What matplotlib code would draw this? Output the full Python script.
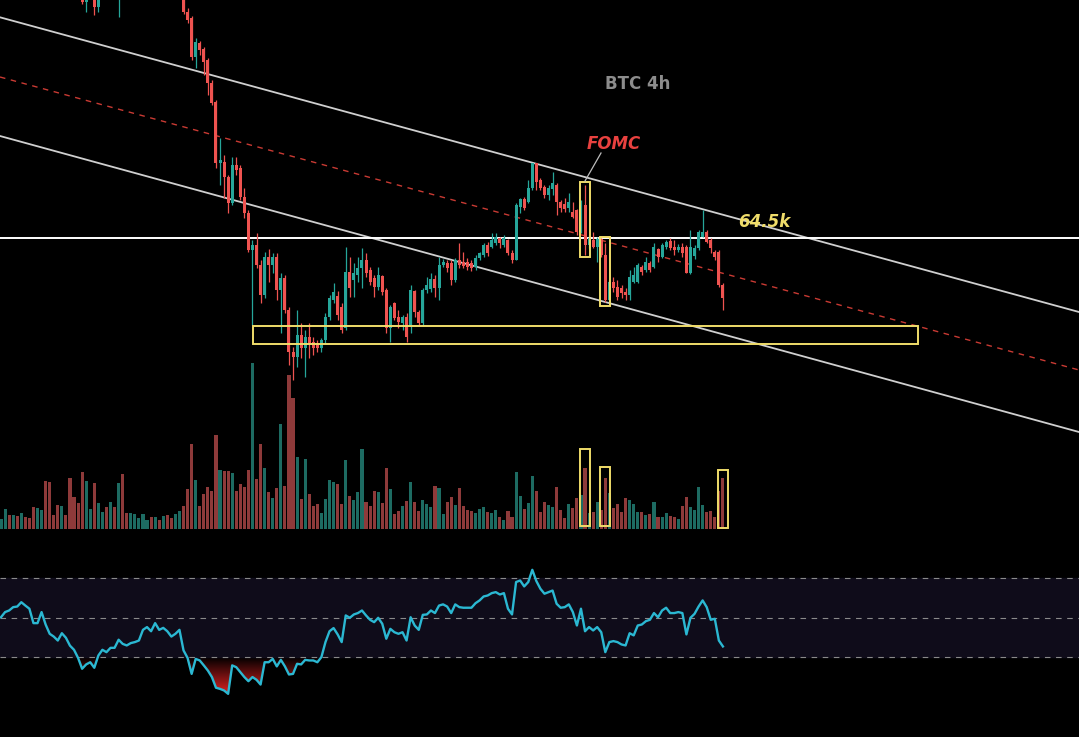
import matplotlib
matplotlib.use("Agg")
import matplotlib.pyplot as plt
import numpy as np
from matplotlib.patches import Rectangle
from matplotlib.lines import Line2D
from matplotlib.path import Path

# ---------------- data (BTC 4h) ----------------
opens = [76640, 76800, 76960, 76840, 77040, 76960, 77200, 77080, 76960, 76480,
         76560, 76800, 76400, 76000, 75840, 75600, 75800, 75600, 75280, 75040,
         74600, 73920, 74240, 74400, 73720, 74080, 74320, 74160, 74400, 74320,
         74560, 74400, 74320, 74480, 74640, 74720, 75120, 75280, 75120, 75440,
         75200, 75320, 75200, 74960, 75080, 75200, 73520, 73280, 71720, 72280,
         72040, 71600, 70680, 69920, 67480, 67520, 66920, 65880, 67400, 67280,
         66120, 65480, 64000, 64200, 63400, 62200, 63720, 63400, 63720, 62400,
         62880, 61600, 59920, 59720, 60600, 60080, 60520, 60320, 60280, 60080,
         60400, 61320, 62000, 62160, 61720, 60880, 63120, 62800, 63000, 63280,
         63600, 63200, 62880, 62520, 62960, 62400, 60880, 61880, 61320, 61080,
         61320, 60920, 62360, 61520, 61080, 62400, 62440, 62840, 62480, 63400,
         63480, 63480, 62800, 63600, 63520, 63520, 63480, 63320, 63680, 63800,
         64200, 64120, 64280, 64480, 64200, 64400, 63880, 63600, 65720, 66040,
         65920, 66480, 67480, 66800, 66520, 66200, 66440, 66600, 65920, 65840,
         65680, 65520, 65600, 64720, 65800, 64200, 64400, 64120, 64440, 63800,
         62000, 62720, 62520, 62480, 62320, 62200, 62720, 62720, 63320, 63200,
         63480, 63320, 64040, 63720, 64120, 64360, 64120, 64000, 64120, 64120,
         63080, 63760, 64080, 64520, 64720, 64400, 63920, 63920, 62600]
highs = [76960, 77120, 77080, 77160, 77200, 77360, 77320, 77160, 77040, 76720,
         76960, 76880, 76520, 76120, 75960, 75920, 75920, 75720, 75400, 75120,
         74720, 74360, 74560, 74480, 74200, 74440, 74400, 74520, 74560, 74680,
         74640, 74520, 74600, 74760, 74880, 75240, 75440, 75360, 75560, 75520,
         75440, 75400, 75280, 75200, 75320, 75280, 73680, 73360, 72480, 72360,
         72120, 71680, 70800, 70000, 68480, 67800, 67000, 67720, 67720, 67400,
         66480, 65600, 64400, 64680, 63600, 63920, 64040, 63880, 63880, 63080,
         63000, 61720, 60120, 61600, 61080, 60800, 61080, 60520, 60400, 60480,
         61480, 62200, 62680, 62360, 61880, 64120, 63720, 63480, 63720, 64080,
         63880, 63320, 63000, 63320, 63000, 62480, 61800, 61920, 61600, 61400,
         61480, 62600, 62400, 61600, 62480, 62920, 63080, 63000, 63720, 63640,
         63600, 63600, 63680, 64280, 63920, 63680, 63600, 63800, 63920, 64280,
         64320, 64680, 64680, 64520, 64600, 64440, 64000, 65880, 66080, 66120,
         66800, 67480, 67480, 66880, 66600, 66600, 67120, 66680, 66000, 66080,
         66280, 65920, 65640, 66000, 66600, 64600, 64720, 64520, 64480, 64280,
         62800, 62920, 62800, 62600, 62480, 63200, 63320, 63480, 63400, 63720,
         63560, 64280, 64080, 64280, 64400, 64480, 64400, 64240, 64280, 64200,
         64800, 64200, 64800, 65600, 64800, 64480, 64000, 64000, 62680]
lows = [76480, 76640, 76680, 76720, 76800, 76840, 76960, 76800, 76320, 76320,
        76400, 76240, 75840, 75680, 75440, 75440, 75400, 75120, 74880, 74400,
        73840, 73520, 74080, 73400, 73520, 74040, 74040, 74080, 74120, 73320,
        74200, 74160, 74200, 74320, 74480, 74600, 74960, 74960, 75000, 75040,
        75040, 75040, 74800, 74800, 74880, 73440, 73080, 71600, 71280, 71800,
        71000, 70200, 69800, 67280, 66600, 66080, 65480, 65800, 67000, 66000,
        65280, 63920, 61000, 63280, 61880, 62080, 62720, 63080, 62000, 60680,
        61480, 59400, 58800, 59320, 59680, 58920, 59680, 59800, 59920, 59920,
        60280, 61200, 61880, 61200, 60680, 60800, 62120, 62120, 62720, 62480,
        62920, 62600, 62120, 62400, 62200, 60680, 60320, 61200, 60880, 60800,
        60320, 60680, 61320, 61000, 61000, 62280, 62320, 62120, 62000, 63320,
        63120, 62600, 62720, 63280, 63280, 63200, 63160, 63200, 63600, 63720,
        63760, 64080, 64200, 64080, 64120, 63800, 63480, 63600, 65480, 65600,
        65880, 66400, 66400, 66400, 66080, 66000, 66200, 65400, 65520, 65520,
        65520, 65280, 64600, 64680, 63800, 64080, 64080, 63520, 63720, 61920,
        61920, 62320, 62000, 62080, 62000, 62000, 62680, 62680, 63000, 63120,
        63120, 63280, 63520, 63680, 64040, 64000, 63800, 63920, 63720, 63080,
        63040, 63640, 64000, 64520, 64280, 63880, 63600, 62520, 61600]
closes = [76800, 76960, 76840, 77040, 76960, 77200, 77080, 76960, 76480, 76560,
          76800, 76400, 76000, 75840, 75600, 75800, 75600, 75280, 75040, 74600,
          73920, 74240, 74400, 73720, 74080, 74320, 74160, 74400, 74320, 74560,
          74400, 74320, 74480, 74640, 74720, 75120, 75280, 75120, 75440, 75200,
          75320, 75200, 74960, 75080, 75200, 73520, 73200, 71720, 72320, 72000,
          71520, 70680, 69880, 67480, 67600, 66920, 65880, 67400, 67200, 66120,
          65480, 64000, 64200, 63400, 62200, 63720, 63400, 63720, 62400, 62880,
          61600, 59920, 59720, 60600, 60080, 60520, 60280, 60080, 60080, 60400,
          61320, 62080, 62320, 61400, 60800, 63120, 62480, 63080, 63280, 63600,
          63080, 62720, 62520, 63000, 62320, 60880, 61720, 61280, 61120, 61320,
          60520, 62400, 61520, 61080, 62400, 62600, 62840, 62480, 63400, 63520,
          63280, 62800, 63600, 63400, 63360, 63320, 63280, 63680, 63880, 64200,
          63880, 64400, 64520, 64280, 64480, 63880, 63600, 65800, 66040, 65680,
          66480, 67480, 66720, 66480, 66200, 66480, 66680, 65920, 65680, 65640,
          65920, 65320, 64720, 65800, 64200, 64480, 64120, 64440, 63800, 62000,
          62720, 62480, 62120, 62280, 62200, 62920, 63000, 63400, 63120, 63520,
          63200, 64120, 63720, 64200, 64320, 64080, 64000, 64120, 63880, 63080,
          64120, 64080, 64720, 64720, 64320, 64080, 63720, 62600, 62080]
volumes = [1000, 1970, 1400, 1400, 1300, 1570, 1230, 1100, 2170, 2100,
           1900, 4830, 4700, 1400, 2400, 2300, 1400, 5100, 3230, 2630,
           5700, 4800, 2030, 4630, 2600, 1700, 2170, 2730, 2170, 4630,
           5500, 1600, 1570, 1500, 1130, 1500, 900, 1170, 1170, 900,
           1300, 1400, 1130, 1500, 1830, 2300, 4000, 8500, 4900, 2300,
           3500, 4230, 3830, 9400, 5900, 5800, 5800, 5630, 3800, 4500,
           4230, 5900, 16600, 5030, 8500, 6070, 3700, 3100, 4100, 10500,
           4300, 15400, 13100, 7170, 2970, 6970, 3500, 2300, 2500, 1570,
           3000, 4900, 4700, 4500, 2500, 6900, 3300, 2900, 3700, 7970,
           2730, 2300, 3800, 3700, 2630, 6070, 3970, 1500, 1830, 2300,
           2830, 4700, 2670, 1830, 2900, 2500, 2230, 4300, 4100, 1500,
           2730, 3170, 2400, 4100, 2300, 1900, 1830, 1570, 1970, 2170,
           1730, 1630, 1900, 1230, 900, 1830, 1230, 5670, 3300, 2000,
           2600, 5300, 3800, 1700, 2700, 2370, 2170, 4200, 1900, 1070,
           2500, 2100, 3070, 3400, 6130, 1600, 1730, 2730, 1900, 5130,
           3630, 2070, 2500, 1730, 3070, 2900, 2500, 1730, 1730, 1400,
           1500, 2730, 1230, 1230, 1630, 1300, 1230, 970, 2300, 3230,
           2170, 1900, 4230, 2400, 1730, 1830, 1230, 3830, 5130]
rsi = [50.3, 52.9, 53.7, 55.4, 55.7, 57.9, 56.2, 54.6, 47.3, 47.3,
       52.9, 46.6, 41.9, 40.5, 38.5, 42.2, 39.9, 35.9, 33.8, 29.7,
       24.2, 26.4, 27.5, 24.7, 30.9, 33.8, 32.6, 34.8, 34.8, 38.9,
       36.8, 36.0, 37.2, 37.7, 38.5, 43.9, 45.3, 43.2, 47.3, 43.9,
       44.9, 43.2, 40.5, 41.9, 43.9, 33.5, 29.7, 21.6, 29.2, 28.4,
       25.9, 23.3, 20.0, 14.6, 14.0, 13.2, 11.5, 25.9, 25.0, 22.5,
       20.0, 17.9, 20.0, 18.6, 16.2, 27.5, 27.5, 29.2, 25.4, 28.7,
       25.4, 21.3, 21.6, 26.7, 26.4, 28.7, 28.4, 28.4, 27.5, 30.1,
       37.7, 43.2, 44.8, 41.6, 37.7, 51.2, 50.0, 51.7, 52.4, 53.7,
       51.2, 49.0, 47.8, 50.0, 47.0, 39.4, 44.4, 42.7, 41.9, 42.7,
       38.5, 50.3, 46.1, 43.9, 51.5, 51.7, 53.7, 52.4, 56.2, 56.8,
       55.7, 52.4, 56.8, 55.4, 55.1, 55.1, 55.1, 57.4, 58.8, 60.8,
       61.3, 62.5, 63.0, 61.8, 62.5, 54.6, 51.7, 68.1, 68.9, 65.9,
       68.1, 74.3, 68.6, 64.7, 62.2, 63.0, 63.8, 57.1, 55.1, 55.4,
       56.8, 52.9, 46.1, 54.6, 43.2, 45.3, 43.6, 45.3, 42.7, 32.6,
       37.7, 38.2, 37.7, 36.5, 36.0, 42.2, 41.1, 46.1, 46.6, 48.3,
       49.0, 52.4, 50.3, 53.7, 55.1, 52.4, 52.4, 52.9, 52.4, 41.6,
       50.0, 52.0, 55.7, 58.8, 55.4, 49.0, 49.5, 38.5, 35.5]

# annotations (index, price)
level_price = 64500
upper_channel = [(-0.25, 73308), (265.8, 61520)]
lower_channel = [(-0.25, 68560), (265.8, 56720)]
mid_channel = [(-0.25, 70920), (265.8, 59200)]
support_zone = (62.1, 226.1, 60240, 60960)
fomc_box = (142.75, 145.2, 63720, 66720)
drop_box = (147.7, 150.1, 61760, 64520)
vol_boxes = [(142.75, 145.2, 300, 8000), (147.7, 150.1, 300, 6200), (176.8, 179.2, 100, 5900)]

# ---------------- figure ----------------
W, H = 1079, 737
fig = plt.figure(figsize=(W / 100, H / 100), dpi=100, facecolor="black")

def px_axes(top, bottom):
    a = fig.add_axes([0, 1 - bottom / H, 1, (bottom - top) / H])
    a.set_facecolor("none")
    a.axis("off")
    return a

XMIN, XMAX = -0.25, 265.8
UP, DN = "#26a69a", "#ef5350"
VUP, VDN = "#1d6b62", "#8e3a3a"
YEL = "#f0dd6a"

o = np.array(opens, float); h = np.array(highs, float)
l = np.array(lows, float); c = np.array(closes, float)
n = len(c); idx = np.arange(n)
up = c >= o

# price panel
ax = px_axes(0, H)
ax.set_xlim(XMIN, XMAX)
ax.set_ylim(74000 - 40 * H, 74000)

for pts, col, ls, lw in [(upper_channel, "#cfcfcf", "-", 1.3),
                         (lower_channel, "#cfcfcf", "-", 1.3),
                         (mid_channel, "#c93a33", (0, (4, 4)), 1.0)]:
    ax.plot([pts[0][0], pts[1][0]], [pts[0][1], pts[1][1]], color=col, lw=lw, ls=ls, zorder=1)
ax.axhline(level_price, color="white", lw=1.4, zorder=1)

ax.vlines(idx, l, h, colors=np.where(up, UP, DN), lw=0.9, zorder=3)
body_bottom = np.minimum(o, c)
body_h = np.maximum(np.abs(c - o), 40)
ax.bar(idx, body_h, bottom=body_bottom, width=0.74, color=np.where(up, UP, DN), zorder=4)

x0, x1, y0, y1 = support_zone
ax.add_patch(Rectangle((x0, y0), x1 - x0, y1 - y0, fill=False, ec=YEL, lw=1.4, zorder=5))
for b in (fomc_box, drop_box):
    ax.add_patch(Rectangle((b[0], b[2]), b[1] - b[0], b[3] - b[2], fill=False, ec=YEL, lw=1.4, zorder=5))

# volume panel
av = px_axes(300, 529)
av.set_xlim(XMIN, XMAX)
av.set_ylim(0, 22900)
av.bar(idx, volumes, width=0.76, color=np.where(up, VUP, VDN), zorder=2)
for b in vol_boxes:
    av.add_patch(Rectangle((b[0], b[2]), b[1] - b[0], b[3] - b[2], fill=False, ec=YEL, lw=1.4, zorder=5))

# RSI panel
ar = px_axes(560, 700)
ar.set_xlim(XMIN, XMAX)
ar.set_ylim(8.38, 79.27)
ar.axhspan(30, 70, color="#0f0c1a", zorder=0)
for lvl in (70, 50, 30):
    ar.axhline(lvl, color="#8a8a8a", lw=0.8, ls=(0, (5, 5)), zorder=1)
r = np.array(rsi)
poly = ar.fill_between(idx, r, 30, where=r < 30, interpolate=True, color="none", lw=0)
paths = poly.get_paths()
if paths:
    yy = np.linspace(8.38, 30, 200)
    alpha = np.clip((30 - yy) / 16.0, 0, 1) * 0.95
    img = np.zeros((200, 2, 4))
    img[..., 0] = 0.80; img[..., 1] = 0.12; img[..., 2] = 0.12
    img[..., 3] = alpha[:, None]
    im = ar.imshow(img, extent=[XMIN, XMAX, 8.38, 30], origin="lower", aspect="auto", zorder=2,
                   interpolation="bilinear")
    im.set_clip_path(Path.make_compound_path(*paths), ar.transData)
ar.plot(idx, r, color="#2bb8d2", lw=1.7, zorder=3)

# texts
def ftxt(x, y, s, **kw):
    fig.text(x / W, 1 - y / H, s, ha="center", va="center", **kw)

ftxt(638, 84, "BTC 4h", color="#8c8c8c", fontsize=12, fontweight="bold")
ftxt(614, 144, "FOMC", color="#e8413f", fontsize=12, fontweight="bold", style="italic")
ftxt(764, 222, "64.5k", color=YEL, fontsize=12, fontweight="bold", style="italic")
fig.add_artist(Line2D([601 / W, 585 / W], [1 - 153 / H, 1 - 181 / H], color="#bdbdbd", lw=0.9))

fig.savefig("out.png", dpi=100, facecolor="black")
